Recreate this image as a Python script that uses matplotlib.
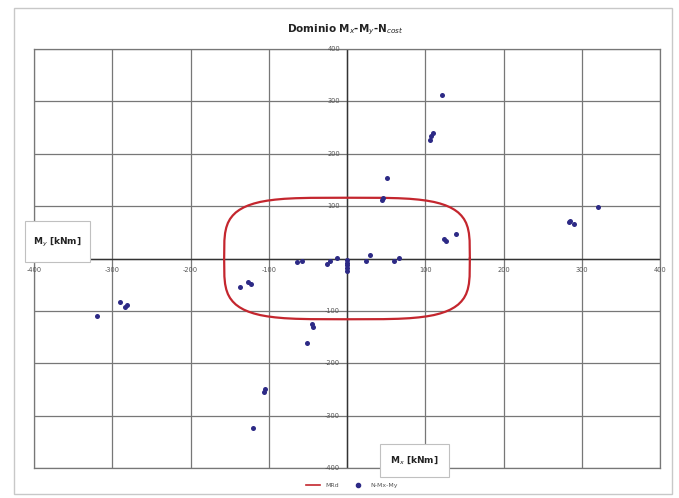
import matplotlib
matplotlib.use("Agg")
import matplotlib.pyplot as plt
from matplotlib.patches import Rectangle
from matplotlib.lines import Line2D

# ---- data ----
title_text = "Dominio M$_x$-M$_y$-N$_{cost}$"
xlabel_text = "M$_x$ [kNm]"
ylabel_text = "M$_y$ [kNm]"
legend_labels = ["MRd", "N-Mx-My"]
tick_values = [-400, -300, -200, -100, 100, 200, 300, 400]
tick_labels = ["-400", "-300", "-200", "-100", "100", "200", "300", "400"]

# resisting domain MRd (closed curve)
mrd_x = [157, 156.7, 155.8, 154.3, 152.2, 149.5, 146.1, 142.1, 137.4, 132.0, 125.9, 118.9, 111.0, 102.1, 91.8, 79.9, 65.5, 46.4, 0,
         -46.4, -65.5, -79.9, -91.8, -102.1, -111.0, -118.9, -125.9, -132.0, -137.4, -142.1, -146.1, -149.5, -152.2, -154.3, -155.8, -156.7, -157,
         -156.7, -155.8, -154.3, -152.2, -149.5, -146.1, -142.1, -137.4, -132.0, -125.9, -118.9, -111.0, -102.1, -91.8, -79.9, -65.5, -46.4, 0,
         46.4, 65.5, 79.9, 91.8, 102.1, 111.0, 118.9, 125.9, 132.0, 137.4, 142.1, 146.1, 149.5, 152.2, 154.3, 155.8, 156.7, 157]
mrd_y = [0, 34.3, 48.4, 59.0, 67.9, 75.4, 82.0, 87.9, 93.0, 97.6, 101.5, 105.0, 108.0, 110.4, 112.4, 114.0, 115.1, 115.8, 116,
         115.8, 115.1, 114.0, 112.4, 110.4, 108.0, 105.0, 101.5, 97.6, 93.0, 87.9, 82.0, 75.4, 67.9, 59.0, 48.4, 34.3, 0,
         -34.3, -48.4, -59.0, -67.9, -75.4, -82.0, -87.9, -93.0, -97.6, -101.5, -105.0, -108.0, -110.4, -112.4, -114.0, -115.1, -115.8, -116,
         -115.8, -115.1, -114.0, -112.4, -110.4, -108.0, -105.0, -101.5, -97.6, -93.0, -87.9, -82.0, -75.4, -67.9, -59.0, -48.4, -34.3, 0]

# load points N-Mx-My
pts_mx = [121.9, 109.8, 107.5, 106.0, 46.0, 45.0, 51.5, 126.0, 124.0, 139.0,
          -64.0, -58.0, -26.0, -22.0, -13.0, 0, 0, 0, 0, 0,
          24.0, 30.0, 60.0, 67.0, -137.0, -126.0, -123.0, -44.0, -45.0, -51.0,
          -106.0, -105.0, -120.6, -290.0, -283.6, -280.6, -320.0, 320.5, 284.8, 290.5, 283.6]
pts_my = [313, 239, 233, 227, 116, 112, 153, 34, 37, 47,
          -7, -4, -10, -4, 1, -3, -8, -13, -18, -24,
          -4, 6, -4, 1, -55, -44, -48, -130, -126, -161,
          -255, -249, -324, -83, -93, -88, -110, 99, 72.5, 66, 69]

# ---- figure ----
W, H = 679, 498
fig = plt.figure(figsize=(W / 100, H / 100), dpi=100)
fig.patch.set_facecolor("white")


def px_rect(x0, y0, x1, y1, **kw):
    return Rectangle((x0 / W, 1 - y1 / H), (x1 - x0) / W, (y1 - y0) / H,
                     transform=fig.transFigure, **kw)


# outer chart border
fig.patches.append(px_rect(14, 8, 672, 494, fill=False, edgecolor="#c8c8c8", lw=1.0))

ax = fig.add_axes([34 / W, 1 - 468 / H, (660 - 34) / W, (468 - 49) / H])
ax.set_xlim(-400, 400)
ax.set_ylim(-400, 400)
ax.set_xticks(range(-400, 401, 100))
ax.set_yticks(range(-400, 401, 100))
ax.tick_params(length=0, labelbottom=False, labelleft=False)
ax.grid(True, color="#777777", lw=0.9)
for s in ax.spines.values():
    s.set_color("#777777")
    s.set_linewidth(0.9)
ax.axhline(0, color="#333333", lw=1.0, zorder=2)
ax.axvline(0, color="#333333", lw=1.0, zorder=2)

ax.plot(mrd_x, mrd_y, color="#c4262e", lw=1.6, zorder=3)
ax.scatter(pts_mx, pts_my, s=13, color="#2d2a86", zorder=4, linewidths=0)

# tick labels along the axes
for v, lab in zip(tick_values, tick_labels):
    ax.annotate(lab, (v, 0), xytext=(0, -8), textcoords="offset points",
                ha="center", va="center", fontsize=4.8, color="#555555",
                annotation_clip=False)
    ax.annotate(lab, (0, v), xytext=(-5, 0), textcoords="offset points",
                ha="right", va="center", fontsize=4.8, color="#555555",
                annotation_clip=False)

# title
fig.text(345 / W, 1 - 30 / H, title_text, ha="center", va="center",
         fontsize=7.5, fontweight="bold", color="#222222")

# axis label boxes
fig.patches.append(px_rect(25, 221, 90, 262, facecolor="white", edgecolor="#c0c0c0", lw=0.8, zorder=5))
fig.text(57.5 / W, 1 - 242 / H, ylabel_text, ha="center", va="center",
         fontsize=6.5, fontweight="bold", color="#222222", zorder=6)
fig.patches.append(px_rect(380, 444, 449, 477, facecolor="white", edgecolor="#c0c0c0", lw=0.8, zorder=5))
fig.text(414.5 / W, 1 - 460.5 / H, xlabel_text, ha="center", va="center",
         fontsize=6.5, fontweight="bold", color="#222222", zorder=6)

# legend
handles = [Line2D([0], [0], color="#c4262e", lw=1.2),
           Line2D([0], [0], color="#2d2a86", lw=0, marker="o", markersize=3)]
fig.legend(handles, legend_labels, loc="center", bbox_to_anchor=(352 / W, 1 - 485 / H),
           ncol=2, fontsize=4.5, frameon=False, handlelength=2.2, columnspacing=2.0,
           labelcolor="#555555")

fig.savefig("out.png", dpi=100, facecolor="white")
